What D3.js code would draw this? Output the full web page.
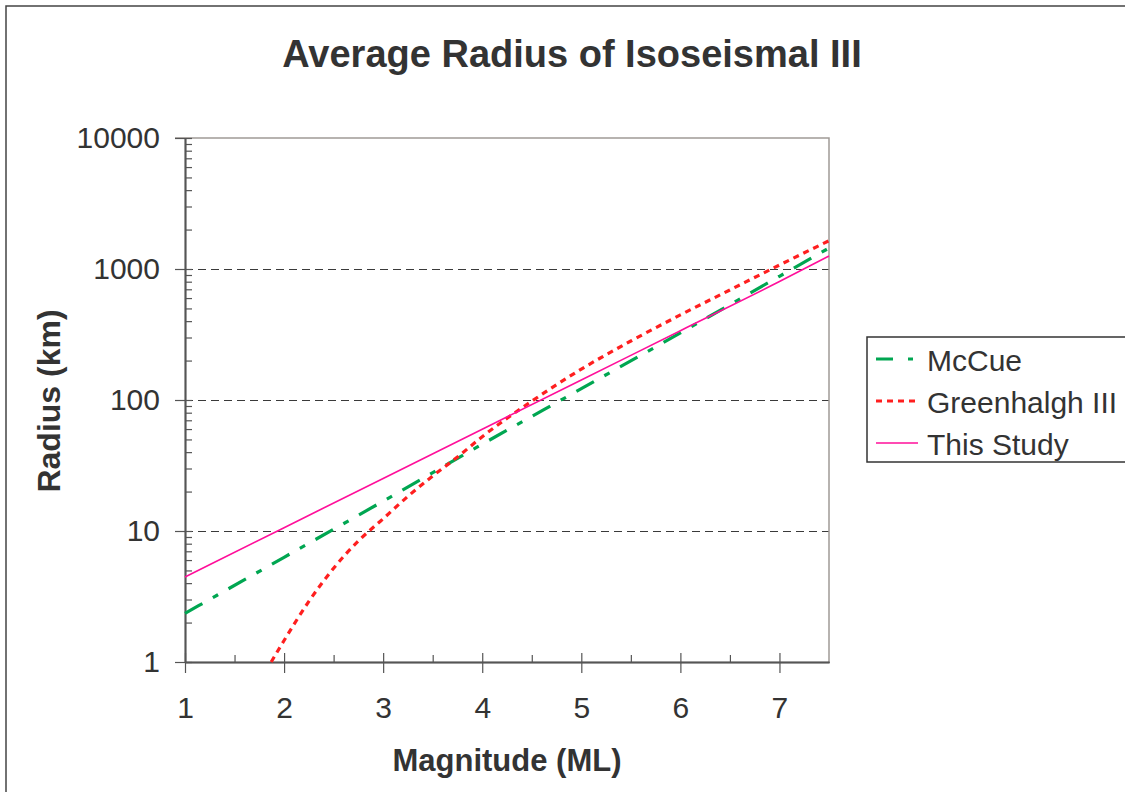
<!DOCTYPE html>
<html lang="en">

<head>
    <meta charset="UTF-8">
    <title>Average Radius of Isoseismal III</title>
    <script src="https://d3js.org/d3.v7.min.js"></script>

    <style>
        body {
            margin: 0;
            background: #fff;
            overflow: hidden;
        }

        svg {
            display: block;
        }

        text {
            font-family: "Liberation Sans", Arial, Helvetica, sans-serif;
            fill: #333;
        }

        .tick text {
            font-size: 30px;
        }
    </style>
</head>

<body>

    <svg width="1125" height="792" id="svg1"></svg>

    <script>

        // series (magnitude ML -> radius km)
        const mccueMag = [1, 2, 3, 4, 5, 6, 7, 7.5];
        const mccueRadius = [2.35, 6.3, 16.9, 46, 122, 325, 880, 1445];

        const greenhalghMag = [1.87, 2, 2.25, 2.5, 2.75, 3, 3.25, 3.5, 3.75, 4, 4.5, 5, 5.5, 6, 6.5, 7, 7.5];
        const greenhalghRadius = [1.0, 1.46, 2.9, 5.2, 8.4, 12.4, 18.4, 26.3, 36.7, 52.5, 98, 172, 282, 446, 692, 1072, 1644];

        const studyMag = [1, 2, 3, 4, 5, 6, 7, 7.5];
        const studyRadius = [4.46, 10.6, 25.2, 59.8, 142, 338, 802, 1256];

        const seriesNames = ["McCue", "Greenhalgh III", "This Study"];

        // tick labels
        const xTicks = [1, 2, 3, 4, 5, 6, 7];
        const xMinorTicks = [1.5, 2.5, 3.5, 4.5, 5.5, 6.5];
        const yTicks = [1, 10, 100, 1000, 10000];

        const svg1 = d3.select('#svg1');

        const margin = {
            top: 138,
            right: 296,
            bottom: 130,
            left: 185
        };
        const width = +svg1.attr('width');
        const height = +svg1.attr('height');
        const innerWidth = width - margin.left - margin.right;
        const innerHeight = height - margin.top - margin.bottom;

        // outer frame
        svg1.append('rect')
            .attr('x', 6)
            .attr('y', 6)
            .attr('width', 1140)
            .attr('height', 800)
            .attr('fill', 'none')
            .attr('stroke', '#444')
            .attr('stroke-width', 1.5);

        const g = svg1.append('g')
            .attr('transform', `translate(${margin.left}, ${margin.top})`);

        var x = d3.scaleLinear()
            .domain([1, 7.5])
            .range([0, innerWidth]);

        var y = d3.scaleLog()
            .domain([1, 10000])
            .range([innerHeight, 0]);

        // dashed grid lines
        g.append('g')
            .selectAll('line')
            .data(yTicks.filter(d => d > 1 && d < 10000))
            .enter()
            .append('line')
            .attr('x1', 0)
            .attr('x2', innerWidth)
            .attr('y1', d => y(d))
            .attr('y2', d => y(d))
            .attr('stroke', '#3a3a3a')
            .attr('stroke-width', 1)
            .attr('shape-rendering', 'crispEdges')
            .attr('stroke-dasharray', '8,5');

        // top and right plot border
        g.append('path')
            .attr('d', `M${-10},0H${innerWidth}V${innerHeight}`)
            .attr('fill', 'none')
            .attr('stroke', '#a09a96')
            .attr('stroke-width', 1.5);

        // y axis: major ticks outside with labels, ticks inside
        g.append('g')
            .call(d3.axisLeft(y)
                .tickValues(yTicks)
                .tickFormat(d3.format('d'))
                .tickSizeInner(10)
                .tickSizeOuter(0)
                .tickPadding(15));

        g.append('g')
            .call(d3.axisRight(y)
                .tickValues(y.ticks().filter(d => yTicks.indexOf(d) < 0))
                .tickFormat('')
                .tickSizeInner(7)
                .tickSizeOuter(0));

        g.append('g')
            .call(d3.axisRight(y)
                .tickValues(yTicks)
                .tickFormat('')
                .tickSizeInner(7)
                .tickSizeOuter(0));

        // x axis: major ticks crossing, minor ticks inside
        g.append('g')
            .attr('transform', 'translate(0,' + innerHeight + ')')
            .call(d3.axisBottom(x)
                .tickValues(xTicks)
                .tickFormat(d3.format('d'))
                .tickSizeInner(11)
                .tickSizeOuter(0)
                .tickPadding(24));

        g.append('g')
            .attr('transform', 'translate(0,' + innerHeight + ')')
            .call(d3.axisTop(x)
                .tickValues(xTicks)
                .tickFormat('')
                .tickSizeInner(9)
                .tickSizeOuter(0));

        g.append('g')
            .attr('transform', 'translate(0,' + innerHeight + ')')
            .call(d3.axisTop(x)
                .tickValues(xMinorTicks)
                .tickFormat('')
                .tickSizeInner(7)
                .tickSizeOuter(0));

        g.selectAll('.domain')
            .attr('stroke', '#555')
            .attr('stroke-width', 1.5);
        g.selectAll('.tick line')
            .attr('stroke', '#555')
            .attr('stroke-width', 1.2);
        g.selectAll('.tick text')
            .attr('fill', '#333');

        // lines
        const series = [
            { name: seriesNames[0], mag: mccueMag, radius: mccueRadius, color: '#00a651', width: 3.2, dash: '20,12,6,12' },
            { name: seriesNames[1], mag: greenhalghMag, radius: greenhalghRadius, color: '#ff1f1f', width: 3.2, dash: '6,5' },
            { name: seriesNames[2], mag: studyMag, radius: studyRadius, color: '#ff0f9a', width: 1.6, dash: null }
        ];

        var line = d3.line()
            .x(d => x(d[0]))
            .y(d => y(d[1]))
            .curve(d3.curveMonotoneX);

        g.append('g')
            .selectAll('path')
            .data(series)
            .enter()
            .append('path')
            .attr('d', d => line(d.mag.map((m, i) => [m, d.radius[i]])))
            .attr('fill', 'none')
            .attr('stroke', d => d.color)
            .attr('stroke-width', d => d.width)
            .attr('stroke-dasharray', d => d.dash);

        // titles
        svg1.append('text')
            .attr('x', 572)
            .attr('y', 67)
            .attr('text-anchor', 'middle')
            .attr('font-size', '38px')
            .attr('font-weight', 'bold')
            .text('Average Radius of Isoseismal III');

        svg1.append('text')
            .attr('x', 507)
            .attr('y', 771)
            .attr('text-anchor', 'middle')
            .attr('font-size', '31px')
            .attr('font-weight', 'bold')
            .text('Magnitude (ML)');

        svg1.append('text')
            .attr('transform', 'translate(60,401) rotate(-90)')
            .attr('text-anchor', 'middle')
            .attr('font-size', '32px')
            .attr('font-weight', 'bold')
            .text('Radius (km)');

        // legend
        const legend = svg1.append('g')
            .attr('transform', 'translate(867,337)');

        legend.append('rect')
            .attr('width', 300)
            .attr('height', 125)
            .attr('fill', '#fff')
            .attr('stroke', '#333')
            .attr('stroke-width', 1.5);

        const item = legend.selectAll('.item')
            .data(series)
            .enter()
            .append('g')
            .attr('class', 'item')
            .attr('transform', (d, i) => `translate(0, ${22 + i * 42})`);

        item.append('line')
            .attr('x1', 9)
            .attr('x2', 51)
            .attr('stroke', d => d.color)
            .attr('stroke-width', d => d.width)
            .attr('stroke-dasharray', d => d.name === 'McCue' ? '17,15,5,15' : d.dash);

        item.append('text')
            .attr('x', 60)
            .attr('y', 12)
            .attr('font-size', '30px')
            .text(d => d.name);

    </script>

</body>

</html>
